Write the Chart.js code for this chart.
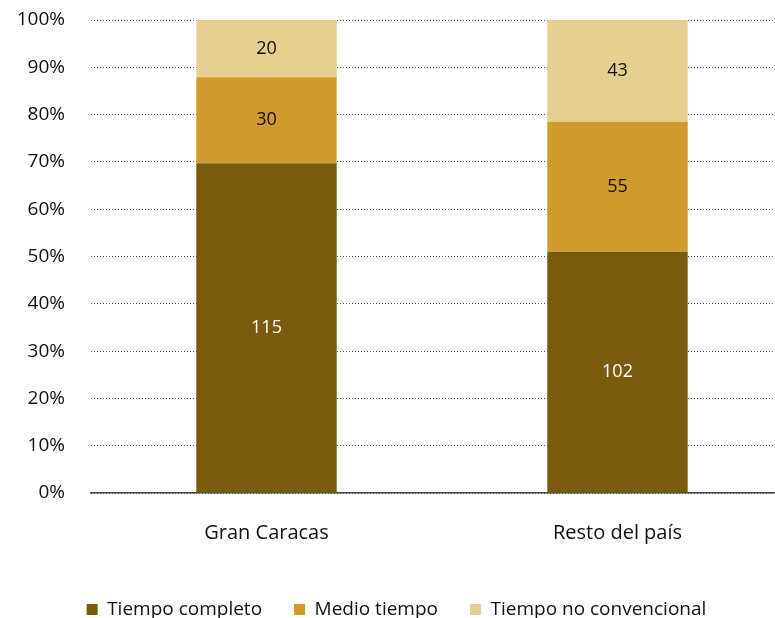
<!DOCTYPE html>
<html>
<head>
<meta charset="utf-8">
<script src="https://cdn.jsdelivr.net/npm/chart.js@4"></script>
<style>
  html, body { margin: 0; background: #fff; overflow: hidden; }
  #wrap { width: 793px; height: 618px; }
</style>
</head>
<body>
<div id="wrap"><canvas id="myChart"></canvas></div>
<script>
// Datos
const categories = ['Gran Caracas', 'Resto del país'];
const seriesNames = ['Tiempo completo', 'Medio tiempo', 'Tiempo no convencional'];
const tiempoCompleto = [115, 102];
const medioTiempo = [30, 55];
const noConvencional = [20, 43];
const yTicks = [0, 10, 20, 30, 40, 50, 60, 70, 80, 90, 100];

const colors = ['#7a5a0e', '#d19a2e', '#e6d08f'];
const labelColors = ['#ffffff', '#111111', '#111111'];
const raw = [tiempoCompleto, medioTiempo, noConvencional];
const totals = categories.map((c, i) => raw.reduce((s, arr) => s + arr[i], 0));

// Porcentajes para el 100% apilado
const datasets = raw.map((arr, k) => ({
  label: seriesNames[k],
  data: arr.map((v, i) => v / totals[i] * 100),
  rawValues: arr,
  backgroundColor: colors[k],
  borderWidth: 0,
  barPercentage: 0.40,
  categoryPercentage: 1.0
}));

// Etiquetas dentro de las barras
const valueLabels = {
  id: 'valueLabels',
  afterDatasetsDraw(chart) {
    const ctx = chart.ctx;
    ctx.save();
    ctx.font = '18px "Open Sans", sans-serif';
    ctx.textAlign = 'center';
    ctx.textBaseline = 'middle';
    chart.data.datasets.forEach((ds, k) => {
      chart.getDatasetMeta(k).data.forEach((bar, i) => {
        ctx.fillStyle = labelColors[k];
        ctx.fillText(String(ds.rawValues[i]), bar.x, (bar.y + bar.base) / 2);
      });
    });
    ctx.restore();
  }
};

let ctx = document.getElementById('myChart').getContext('2d');
let chart = new Chart(ctx, {
  type: 'bar',
  data: { labels: categories, datasets: datasets },
  plugins: [valueLabels],
  options: {
    responsive: true,
    maintainAspectRatio: false,
    animation: false,
    layout: { padding: { top: 20, right: 0, left: 0, bottom: -11 } },
    plugins: {
      tooltip: { enabled: false },
      legend: {
        position: 'bottom',
        labels: {
          boxWidth: 11, boxHeight: 11, padding: 32, color: '#111',
          font: { family: '"Open Sans", sans-serif', size: 19 }
        }
      }
    },
    scales: {
      x: {
        stacked: true,
        afterFit(scale) { scale.height = 75; },
        grid: { display: false, drawTicks: false },
        border: { display: true, color: '#444', width: 1.5 },
        ticks: { padding: 28, color: '#111', font: { family: '"Open Sans", sans-serif', size: 20 } }
      },
      y: {
        stacked: true, min: 0, max: 100,
        afterFit(scale) {
          scale.width = 91;
          scale.paddingTop = 0;
          scale.paddingBottom = 0;
        },
        afterBuildTicks(scale) { scale.ticks = yTicks.map(v => ({ value: v })); },
        grid: { color: '#555', lineWidth: 1, drawTicks: false },
        border: { display: false, dash: [1, 2] },
        ticks: {
          padding: 26, color: '#111',
          font: { family: '"Open Sans", sans-serif', size: 19 },
          callback: v => v + '%'
        }
      }
    }
  }
});
</script>
</body>
</html>
